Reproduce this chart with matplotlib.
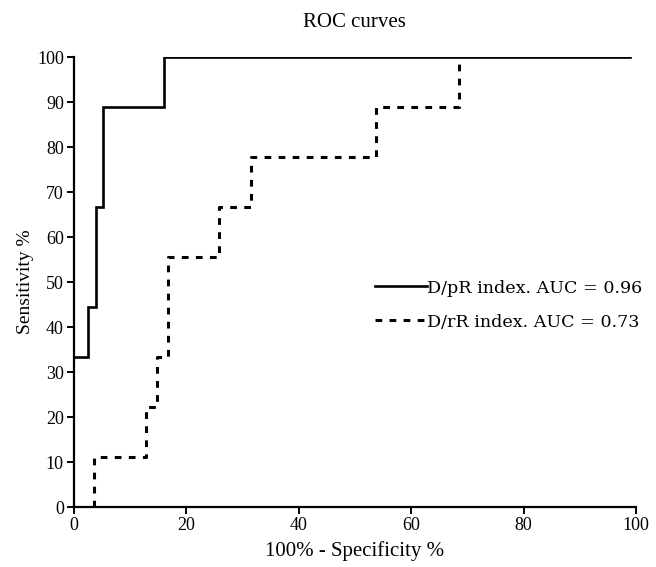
import matplotlib
matplotlib.use("Agg")
import matplotlib.pyplot as plt

# Data
dpr_fpr = [0, 2.5, 3.9, 5.2, 16.1, 99]
dpr_sens = [33.3, 44.4, 66.7, 88.9, 100, 100]
drr_fpr = [3.7, 3.7, 12.9, 14.8, 16.7, 25.9, 31.5, 53.8, 68.6]
drr_sens = [0, 11.1, 22.2, 33.3, 55.6, 66.7, 77.8, 88.9, 100]
labels = ["D/pR index. AUC = 0.96", "D/rR index. AUC = 0.73"]
xticks = [0, 20, 40, 60, 80, 100]
yticks = [0, 10, 20, 30, 40, 50, 60, 70, 80, 90, 100]

serif = ["Liberation Serif", "DejaVu Serif"]

fig = plt.figure(figsize=(6.56, 5.67), dpi=100)
ax = fig.add_axes([0.1122, 0.1058, 0.8573, 0.7932])

ax.plot(dpr_fpr, dpr_sens, drawstyle="steps-post", color="black", lw=1.9,
        label=labels[0], solid_joinstyle="miter")
ax.plot(drr_fpr, drr_sens, drawstyle="steps-post", color="black", lw=2.2,
        dashes=(2.2, 2.4), label=labels[1])

ax.set_xlim(0, 100)
ax.set_ylim(0, 100)
ax.set_xticks(xticks)
ax.set_yticks(yticks)
for sp in ["top", "right"]:
    ax.spines[sp].set_visible(False)
for sp in ["left", "bottom"]:
    ax.spines[sp].set_linewidth(1.6)
ax.tick_params(direction="out", length=5, width=1.4, labelsize=13, pad=2)
for lab in ax.get_xticklabels() + ax.get_yticklabels():
    lab.set_family(serif)

ax.set_xlabel("100% - Specificity %", family=serif, fontsize=15, labelpad=5)
ax.set_ylabel("Sensitivity %", family=serif, fontsize=14, labelpad=2.5)
ax.set_title("ROC curves", family=serif, fontsize=15, pad=22)

leg = ax.legend(loc="center left", bbox_to_anchor=(0.536, 0.449), frameon=False,
                borderpad=0, borderaxespad=0, handlelength=2.95, handletextpad=0,
                labelspacing=0.97, prop={"family": "DejaVu Serif", "size": 12.6})

fig.savefig("out.png", dpi=100)
